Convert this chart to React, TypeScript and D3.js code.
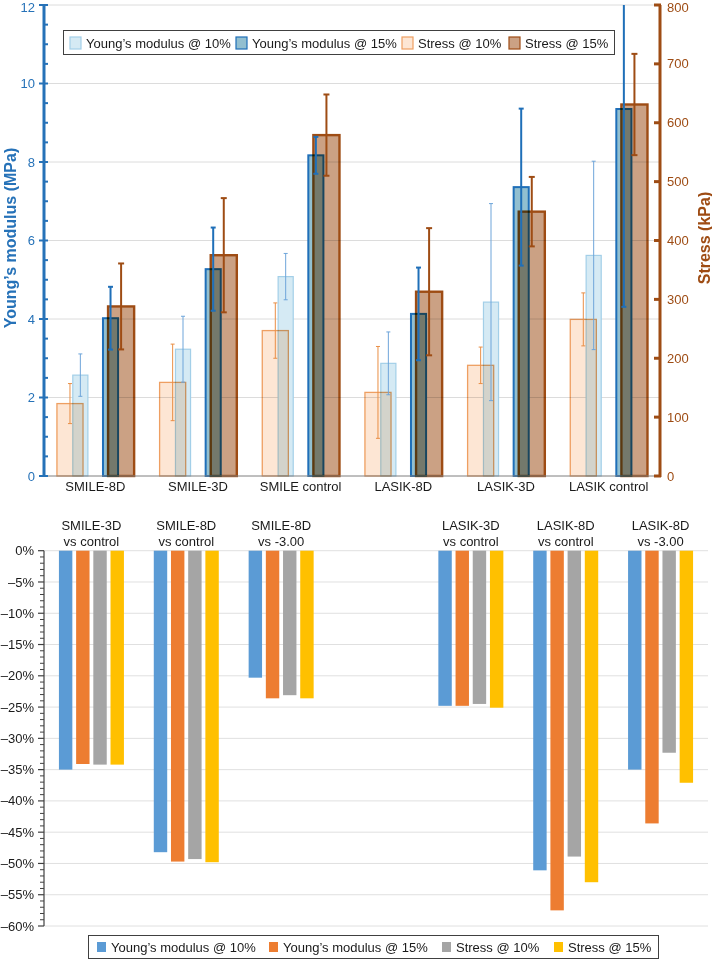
import React from "react";
import * as d3 from "d3";

// ---------- Top chart data ----------
const topCategories = ["SMILE-8D", "SMILE-3D", "SMILE control", "LASIK-8D", "LASIK-3D", "LASIK control"];
const youngs10 = [2.57, 3.23, 5.08, 2.87, 4.43, 5.62];
const youngs10Err = [0.54, 0.84, 0.59, 0.8, 2.51, 2.4];
const youngs15 = [4.02, 5.27, 8.17, 4.13, 7.36, 9.35];
const youngs15Err = [0.8, 1.06, 0.47, 1.18, 2.0, 5.04];
const stress10 = [123, 159, 247, 142, 188, 266];
const stress10Err = [34, 65, 47, 78, 31, 45];
const stress15 = [288, 375, 579, 313, 449, 631];
const stress15Err = [73, 97, 69, 108, 59, 86];
const leftTicks = [0, 2, 4, 6, 8, 10, 12];
const rightTicks = [0, 100, 200, 300, 400, 500, 600, 700, 800];

// ---------- Bottom chart data ----------
const compLine1 = ["SMILE-3D", "SMILE-8D", "SMILE-8D", "", "LASIK-3D", "LASIK-8D", "LASIK-8D"];
const compLine2 = ["vs control", "vs control", "vs -3.00", "", "vs control", "vs control", "vs -3.00"];
const youngs10Change = [-35.0, -48.2, -20.3, null, -24.8, -51.1, -35.0];
const youngs15Change = [-34.1, -49.7, -23.6, null, -24.8, -57.5, -43.6];
const stress10Change = [-34.2, -49.3, -23.1, null, -24.5, -48.9, -32.3];
const stress15Change = [-34.2, -49.8, -23.6, null, -25.1, -53.0, -37.1];
const pctTicks = [0, -5, -10, -15, -20, -25, -30, -35, -40, -45, -50, -55, -60];
const seriesNames = ["Young’s modulus @ 10%", "Young’s modulus @ 15%", "Stress @ 10%", "Stress @ 15%"];

const FONT = "'Liberation Sans', Arial, Helvetica, sans-serif";
const BLUE = "#2672b8";
const BROWN = "#9e4c14";

export default function App() {
  // ----- top scales -----
  const x0 = d3.scaleBand<string>().domain(topCategories).range([44, 660]);
  const bw = x0.bandwidth();
  const yL = d3.scaleLinear().domain([0, 12]).range([476, 5]);
  const yR = d3.scaleLinear().domain([0, 800]).range([476, 5]);

  const topSeries = [
    { values: youngs10, err: youngs10Err, scale: yL, off: -0.146, w: 0.147, fill: "#d5eaf4", stroke: "#a3cfe8", sw: 1.2, ec: "#6ea5da", ew: 1, cap: 4, blend: false },
    { values: youngs15, err: youngs15Err, scale: yL, off: 0.148, w: 0.147, fill: "#92bfd0", stroke: "#1f6fb8", sw: 2, ec: "#1f6fb8", ew: 2, cap: 5, blend: false },
    { values: stress10, err: stress10Err, scale: yR, off: -0.247, w: 0.254, fill: "#fde6d4", stroke: "#ee9f62", sw: 1.3, ec: "#e98e45", ew: 1, cap: 4, blend: true },
    { values: stress15, err: stress15Err, scale: yR, off: 0.251, w: 0.254, fill: "#cba184", stroke: "#9e4c14", sw: 2.4, ec: "#9e4c14", ew: 2, cap: 6, blend: true },
  ];

  const leftMinor = d3.range(0, 12.01, 0.5).filter((v) => Math.abs(v % 2) > 1e-6);

  // ----- bottom scales -----
  const idx = compLine1.map((_, i) => String(i));
  const xB = d3.scaleBand<string>().domain(idx).range([44, 708]);
  const xInner = d3.scaleBand<string>().domain(["0", "1", "2", "3"]).range([-32.5, 32.5]).paddingInner(0.22);
  const yB = d3.scaleLinear().domain([-60, 0]).range([926, 550.7]);
  const changeSeries = [youngs10Change, youngs15Change, stress10Change, stress15Change];
  const changeColors = ["#5b9bd5", "#ed7d31", "#a5a5a5", "#ffc000"];
  const pctMinor = d3.range(-60, 0.01, 1).filter((v) => Math.abs(v % 5) > 1e-6);
  const fmtPct = (v: number) => (v === 0 ? "0%" : `–${Math.abs(v)}%`);

  // legends
  const topLegend = [
    { x: 70, text: seriesNames[0], fill: "#d5eaf4", stroke: "#a3cfe8" },
    { x: 236, text: seriesNames[1], fill: "#92bfd0", stroke: "#1f6fb8" },
    { x: 402, text: seriesNames[2], fill: "#fde6d4", stroke: "#ee9f62" },
    { x: 509, text: seriesNames[3], fill: "#cba184", stroke: "#9e4c14" },
  ];
  const bottomLegendX = [97, 269, 442, 554];

  return (
    <svg
      width={712}
      height={960}
      style={{ position: "absolute", left: 0, top: 0, display: "block", background: "#fff" }}
      fontFamily={FONT}
    >
      {/* ================= TOP CHART ================= */}
      {leftTicks.filter((t) => t > 0).map((t) => (
        <line key={"g" + t} x1={44} x2={660} y1={yL(t)} y2={yL(t)} stroke="#dcdcdc" strokeWidth={1} />
      ))}

      {topSeries.map((s, si) => (
        <g key={"s" + si} style={s.blend ? { mixBlendMode: "multiply" } : undefined}>
          {s.values.map((v, i) => {
            const cx = (x0(topCategories[i]) as number) + bw / 2 + s.off * bw;
            const w = s.w * bw;
            return (
              <rect
                key={i}
                x={cx - w / 2}
                y={s.scale(v)}
                width={w}
                height={476 - s.scale(v)}
                fill={s.fill}
                stroke={s.stroke}
                strokeWidth={s.sw}
              />
            );
          })}
        </g>
      ))}

      {topSeries.map((s, si) => (
        <g key={"e" + si}>
          {s.values.map((v, i) => {
            const cx = (x0(topCategories[i]) as number) + bw / 2 + s.off * bw;
            const yt = Math.max(5, s.scale(v + s.err[i]));
            const yb = s.scale(v - s.err[i]);
            const clipped = s.scale(v + s.err[i]) < 5;
            return (
              <g key={i} stroke={s.ec} strokeWidth={s.ew}>
                <line x1={cx} x2={cx} y1={yt} y2={yb} />
                {!clipped && <line x1={cx - s.cap / 2} x2={cx + s.cap / 2} y1={yt} y2={yt} />}
                <line x1={cx - s.cap / 2} x2={cx + s.cap / 2} y1={yb} y2={yb} />
              </g>
            );
          })}
        </g>
      ))}

      {/* x axis */}
      <line x1={44} x2={660} y1={476} y2={476} stroke="#7f7f7f" strokeWidth={1} />
      {topCategories.map((c) => (
        <text key={c} x={(x0(c) as number) + bw / 2} y={491} textAnchor="middle" fontSize={13} fill="#1a1a1a">
          {c}
        </text>
      ))}

      {/* left axis */}
      <line x1={44} x2={44} y1={5} y2={477} stroke={BLUE} strokeWidth={3} />
      {leftTicks.map((t) => (
        <g key={"lt" + t}>
          <line x1={39} x2={48} y1={yL(t)} y2={yL(t)} stroke={BLUE} strokeWidth={2} />
          <text x={35} y={Math.max(yL(t), 7)} dy="0.35em" textAnchor="end" fontSize={13} fill={BLUE}>
            {t}
          </text>
        </g>
      ))}
      {leftMinor.map((t) => (
        <line key={"lm" + t} x1={44} x2={48} y1={yL(t)} y2={yL(t)} stroke={BLUE} strokeWidth={2} />
      ))}
      <text
        transform={`translate(16,${238}) rotate(-90)`}
        textAnchor="middle"
        fontSize={16}
        fontWeight="bold"
        fill={BLUE}
      >
        Young’s modulus (MPa)
      </text>

      {/* right axis */}
      <line x1={660} x2={660} y1={5} y2={477} stroke={BROWN} strokeWidth={3} />
      {rightTicks.map((t) => (
        <g key={"rt" + t}>
          <line x1={654} x2={661} y1={yR(t)} y2={yR(t)} stroke={BROWN} strokeWidth={3} />
          <text x={667} y={Math.max(yR(t), 7)} dy="0.35em" textAnchor="start" fontSize={13} fill={BROWN}>
            {t}
          </text>
        </g>
      ))}
      <text
        transform={`translate(710,${238}) rotate(-90)`}
        textAnchor="middle"
        fontSize={16}
        fontWeight="bold"
        fill={BROWN}
      >
        Stress (kPa)
      </text>

      {/* top legend */}
      <rect x={63.5} y={30.5} width={551} height={24} fill="#fff" stroke="#404040" strokeWidth={1} />
      {topLegend.map((l, i) => (
        <g key={"tl" + i}>
          <rect x={l.x} y={37} width={11} height={12} fill={l.fill} stroke={l.stroke} strokeWidth={1.2} />
          <text x={l.x + 16} y={47.5} fontSize={13} fill="#1a1a1a">
            {l.text}
          </text>
        </g>
      ))}

      {/* ================= BOTTOM CHART ================= */}
      {pctTicks.map((t) => (
        <line key={"bg" + t} x1={44} x2={708} y1={yB(t)} y2={yB(t)} stroke="#e0e0e0" strokeWidth={1} />
      ))}

      {changeSeries.map((vals, si) => (
        <g key={"cs" + si}>
          {vals.map((v, i) =>
            v === null ? null : (
              <rect
                key={i}
                x={(xB(String(i)) as number) + xB.bandwidth() / 2 + (xInner(String(si)) as number)}
                y={yB(0)}
                width={xInner.bandwidth()}
                height={yB(v) - yB(0)}
                fill={changeColors[si]}
              />
            )
          )}
        </g>
      ))}

      {compLine1.map((c, i) => (
        <g key={"cl" + i}>
          <text x={(xB(String(i)) as number) + xB.bandwidth() / 2} y={530} textAnchor="middle" fontSize={13} fill="#1a1a1a">
            {c}
          </text>
          <text x={(xB(String(i)) as number) + xB.bandwidth() / 2} y={546} textAnchor="middle" fontSize={13} fill="#1a1a1a">
            {compLine2[i]}
          </text>
        </g>
      ))}

      <line x1={44} x2={44} y1={yB(0)} y2={yB(-60)} stroke="#404040" strokeWidth={1.2} />
      {pctTicks.map((t) => (
        <g key={"pt" + t}>
          <line x1={38} x2={44} y1={yB(t)} y2={yB(t)} stroke="#404040" strokeWidth={1.2} />
          <text x={34} y={yB(t)} dy="0.35em" textAnchor="end" fontSize={13} fill="#1a1a1a">
            {fmtPct(t)}
          </text>
        </g>
      ))}
      {pctMinor.map((t) => (
        <line key={"pm" + t} x1={40} x2={44} y1={yB(t)} y2={yB(t)} stroke="#404040" strokeWidth={1} />
      ))}

      {/* bottom legend */}
      <rect x={88.5} y={935.5} width={570} height={23} fill="#fff" stroke="#404040" strokeWidth={1} />
      {bottomLegendX.map((lx, i) => (
        <g key={"bl" + i}>
          <rect x={lx} y={942} width={9} height={10} fill={changeColors[i]} />
          <text x={lx + 14} y={951.5} fontSize={13} fill="#1a1a1a">
            {seriesNames[i]}
          </text>
        </g>
      ))}
    </svg>
  );
}
